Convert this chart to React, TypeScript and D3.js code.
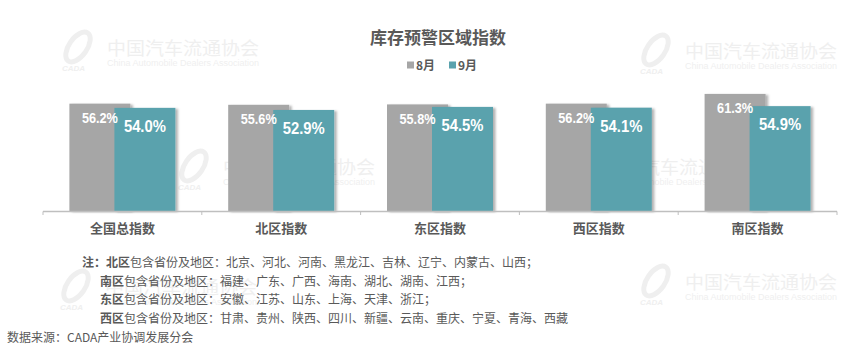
import React from "react";
import * as d3 from "d3";

const categories = ["全国总指数", "北区指数", "东区指数", "西区指数", "南区指数"];
const seriesNames = ["8月", "9月"];
const augValues = [56.2, 55.6, 55.8, 56.2, 61.3];
const sepValues = [54.0, 52.9, 54.5, 54.1, 54.9];
const noteLines = [
  { bold: "北区", rest: "包含省份及地区：北京、河北、河南、黑龙江、吉林、辽宁、内蒙古、山西；" },
  { bold: "南区", rest: "包含省份及地区：福建、广东、广西、海南、湖北、湖南、江西；" },
  { bold: "东区", rest: "包含省份及地区：安徽、江苏、山东、上海、天津、浙江；" },
  { bold: "西区", rest: "包含省份及地区：甘肃、贵州、陕西、四川、新疆、云南、重庆、宁夏、青海、西藏" },
];
const title = "库存预警区域指数";
const source = "数据来源：CADA产业协调发展分会";
const watermarkCn = "中国汽车流通协会";
const watermarkEn = "China Automobile Dealers Association";

const W = 865;
const H = 354;
const COLORS = ["#a6a6a6", "#5aa2ad"];
const TEXT = "#595959";
const CJK = "'Noto Sans CJK SC', 'Noto Sans', sans-serif";
const NARROW = "'Liberation Sans', Arial, sans-serif";

const watermarks = [
  { x: 60, y: 49 },
  { x: 638, y: 52 },
  { x: 176, y: 168 },
  { x: 556, y: 168 },
  { x: 58, y: 288 },
  { x: 638, y: 283 },
];

function Watermark({ x, y }: { x: number; y: number }) {
  return (
    <g transform={`translate(${x},${y})`} fill="#efefef">
      <ellipse cx={18} cy={-2} rx={9} ry={17} transform="rotate(35 18 -2)" fill="none" stroke="#efefef" strokeWidth={5} />
      <text x={2} y={22} fontSize={8} fontStyle="italic" fontWeight="bold" fontFamily="'Liberation Sans', sans-serif">CADA</text>
      <text x={47} y={6} fontSize={18} fontFamily={CJK} textLength={152} lengthAdjust="spacingAndGlyphs">{watermarkCn}</text>
      <text x={47} y={17} fontSize={8.5} fontFamily="'Liberation Sans', sans-serif" textLength={152} lengthAdjust="spacingAndGlyphs">{watermarkEn}</text>
    </g>
  );
}

export default function App() {
  const x0 = d3.scaleBand<string>().domain(categories).range([43, 837]).padding(0);
  const x1 = d3.scalePoint<string>().domain(seriesNames).range([-22.5, 22.5]);
  const y = d3.scaleLinear().domain([0, 70]).range([211, 211 - 70 * 1.91]);
  const barW = 61;
  const series = [augValues, sepValues];

  return (
    <svg width={W} height={H} style={{ position: "absolute", left: 0, top: 0, background: "#fff" }}>
      <defs>
        <filter id="shadow" x="-20%" y="-20%" width="140%" height="140%">
          <feDropShadow dx={2.5} dy={1} stdDeviation={1.2} floodColor="#000" floodOpacity={0.3} />
        </filter>
      </defs>
      <rect x={0} y={0} width={W} height={H} fill="#fff" />
      {watermarks.map((w, i) => (
        <Watermark key={i} x={w.x} y={w.y} />
      ))}

      <text x={438} y={44} textAnchor="middle" fontSize={17} fontWeight="bold" fill={TEXT} fontFamily={CJK}>
        {title}
      </text>

      {/* legend */}
      {seriesNames.map((s, i) => (
        <g key={s} transform={`translate(${407 + i * 42},0)`}>
          <rect x={0} y={61.5} width={7} height={7} fill={COLORS[i]} />
          <text x={9} y={69.5} fontSize={12} fontWeight="bold" fill={TEXT} fontFamily={CJK}>
            {s}
          </text>
        </g>
      ))}

      {/* bars */}
      {categories.map((c, ci) => {
        const cx = (x0(c) as number) + x0.bandwidth() / 2;
        return (
          <g key={c}>
            {series.map((vals, si) => {
              const bx = cx + (x1(seriesNames[si]) as number) - barW / 2;
              const top = y(vals[ci]);
              return (
                <rect key={si} x={bx} y={top} width={barW} height={y(0) - top} fill={COLORS[si]} filter="url(#shadow)" />
              );
            })}
            {series.map((vals, si) => {
              const bcx = cx + (x1(seriesNames[si]) as number);
              const top = y(vals[ci]);
              const len = si === 0 ? 36 : 42;
              return (
                <text
                  key={"t" + si}
                  x={bcx - len / 2}
                  y={top + (si === 0 ? 19.5 : 24)}
                  fontSize={si === 0 ? 14.5 : 17}
                  fontWeight="bold"
                  fill="#fff"
                  fontFamily={NARROW}
                  textLength={len}
                  lengthAdjust="spacingAndGlyphs"
                >
                  {vals[ci].toFixed(1) + "%"}
                </text>
              );
            })}
            <text x={cx} y={233} textAnchor="middle" fontSize={13} fontWeight="bold" fill={TEXT} fontFamily={CJK}>
              {c}
            </text>
          </g>
        );
      })}

      {/* axis */}
      <line x1={43} x2={837} y1={211.5} y2={211.5} stroke="#bfbfbf" strokeWidth={1.5} />
      {[...categories.map((c) => x0(c) as number), 837].map((tx, i) => (
        <line key={i} x1={tx} x2={tx} y1={211.5} y2={215} stroke="#bfbfbf" strokeWidth={1} />
      ))}

      {/* notes */}
      {noteLines.map((n, i) => (
        <text key={i} x={i === 0 ? 82 : 100} y={267 + i * 18.7} fontSize={12} fill={TEXT} fontFamily={CJK}>
          {i === 0 && <tspan fontWeight="bold">注：</tspan>}
          <tspan fontWeight="bold">{n.bold}</tspan>
          <tspan>{n.rest}</tspan>
        </text>
      ))}
      <text x={7} y={342} fontSize={12} fill={TEXT} fontFamily={CJK}>
        {source}
      </text>
    </svg>
  );
}
